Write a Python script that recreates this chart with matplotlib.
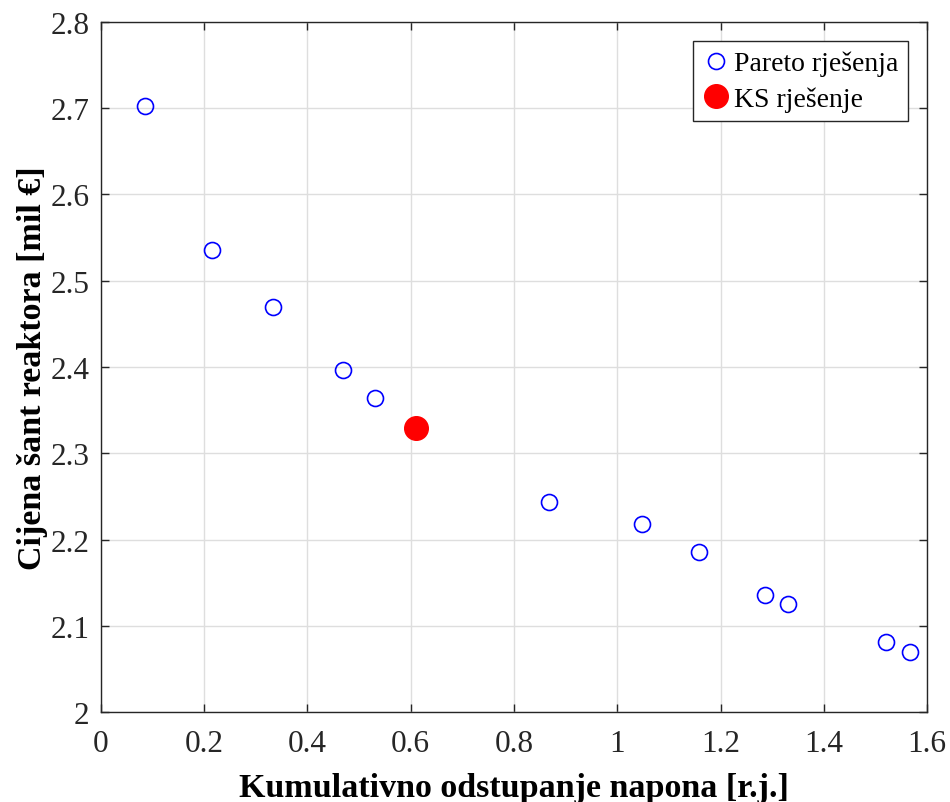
import matplotlib.pyplot as plt

# Pareto front points
pareto_x = [0.086, 0.215, 0.333, 0.469, 0.531, 0.868, 1.048, 1.159, 1.286, 1.330, 1.520, 1.566]
pareto_y = [2.702, 2.535, 2.469, 2.397, 2.364, 2.244, 2.218, 2.186, 2.136, 2.125, 2.081, 2.070]

# Compromise (KS) solution
ks_x = [0.610]
ks_y = [2.329]

x_ticks = [0, 0.2, 0.4, 0.6, 0.8, 1.0, 1.2, 1.4, 1.6]
x_tick_labels = ["0", "0.2", "0.4", "0.6", "0.8", "1", "1.2", "1.4", "1.6"]
y_ticks = [2.0, 2.1, 2.2, 2.3, 2.4, 2.5, 2.6, 2.7, 2.8]
y_tick_labels = ["2", "2.1", "2.2", "2.3", "2.4", "2.5", "2.6", "2.7", "2.8"]

plt.rcParams['font.family'] = ['Liberation Serif', 'DejaVu Serif']

fig = plt.figure(figsize=(9.5, 8.03), dpi=100)
ax = fig.add_axes([0.106, 0.1117, 0.87, 0.86])

ax.plot(pareto_x, pareto_y, linestyle='none', marker='o', markersize=11.5,
        markerfacecolor='none', markeredgecolor='#0000ff', markeredgewidth=1.2,
        label='Pareto rješenja', zorder=3)
ax.plot(ks_x, ks_y, linestyle='none', marker='o', markersize=17,
        markerfacecolor='#ff0000', markeredgecolor='#ff0000',
        label='KS rješenje', zorder=4)

ax.set_xlim(0, 1.6)
ax.set_ylim(2.0, 2.8)
ax.set_xticks(x_ticks)
ax.set_xticklabels(x_tick_labels)
ax.set_yticks(y_ticks)
ax.set_yticklabels(y_tick_labels)

ax.grid(True, color='#dedede', linewidth=1.0)
ax.set_axisbelow(True)
ax.tick_params(direction='in', top=True, right=True, length=6, width=1.0,
               color='#262626', labelsize=22.5, labelcolor='#262626', pad=8)
ax.tick_params(axis='x', pad=12)
for s in ax.spines.values():
    s.set_color('#262626')
    s.set_linewidth(1.0)

ax.set_xlabel('Kumulativno odstupanje napona [r.j.]', fontsize=24.5,
              fontweight='bold', labelpad=10)
ax.set_ylabel('Cijena šant reaktora [mil €]', fontsize=24.5,
              fontweight='bold', labelpad=2)

leg = ax.legend(loc='upper right', fontsize=20, fancybox=False,
                framealpha=1, edgecolor='#262626', borderpad=0.35,
                handletextpad=0.2, handlelength=0.9, borderaxespad=0.7,
                labelspacing=0.35)
leg.get_frame().set_linewidth(1.0)

plt.savefig('out.png', dpi=100)
